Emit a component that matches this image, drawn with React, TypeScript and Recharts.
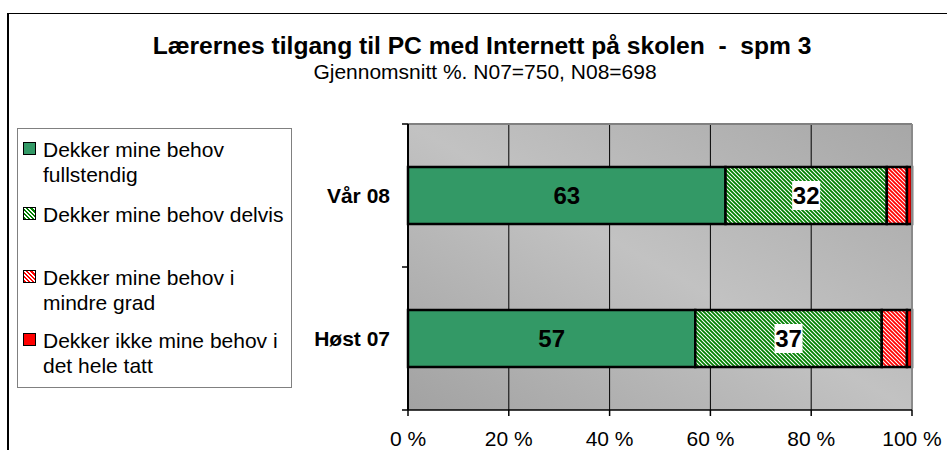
import { BarChart, Bar, XAxis, YAxis, CartesianGrid, ReferenceLine, LabelList } from "recharts";

const categories = ["Vår 08", "Høst 07"];
const fullValues = [63, 57];
const partialValues = [32, 37];
const lessValues = [4, 5];
const noneValues = [1, 1];
const xTicks = [0, 20, 40, 60, 80, 100];

const seriesNames = [
  ["Dekker mine behov", "fullstendig"],
  ["Dekker mine behov delvis"],
  ["Dekker mine behov i", "mindre grad"],
  ["Dekker ikke mine behov i", "det hele tatt"],
];

const FONT = "'Liberation Sans', Arial, sans-serif";
const W = 947;
const H = 450;
const PLOT_LEFT = 408;
const PLOT_TOP = 124;
const PLOT_BOTTOM = 410;
const BAND = (PLOT_BOTTOM - PLOT_TOP) / categories.length;

const data = categories.map((name, i) => ({
  name,
  full: fullValues[i],
  partial: partialValues[i],
  less: lessValues[i],
  none: noneValues[i],
}));

function CatTick(props: any) {
  const { y, payload, index } = props;
  const last = index === categories.length - 1;
  return (
    <g>
      <line x1={PLOT_LEFT - 6} x2={PLOT_LEFT} y1={y - BAND / 2} y2={y - BAND / 2} stroke="#000" strokeWidth={1.5} />
      {last && (
        <line x1={PLOT_LEFT - 6} x2={PLOT_LEFT} y1={y + BAND / 2} y2={y + BAND / 2} stroke="#000" strokeWidth={1.5} />
      )}
      <text x={PLOT_LEFT - 18} y={y} dy="0.36em" textAnchor="end" fontFamily={FONT} fontSize={21} fontWeight="bold" fill="#000">
        {payload.value}
      </text>
    </g>
  );
}

function PlainLabel(props: any) {
  const { x, y, width, height, value } = props;
  return (
    <text x={x + width / 2} y={y + height / 2} dy="0.36em" textAnchor="middle" fontFamily={FONT} fontSize={24} fontWeight="bold" fill="#000">
      {value}
    </text>
  );
}

function BoxedLabel(props: any) {
  const { x, y, width, height, value } = props;
  const cx = x + width / 2;
  const cy = y + height / 2;
  const bw = String(value).length * 13.5 + 1;
  return (
    <g>
      <rect x={cx - bw / 2} y={cy - 14.5} width={bw} height={29} fill="#fff" />
      <text x={cx} y={cy} dy="0.36em" textAnchor="middle" fontFamily={FONT} fontSize={24} fontWeight="bold" fill="#000">
        {value}
      </text>
    </g>
  );
}

const swatchBg = [
  "#339966",
  "repeating-linear-gradient(45deg, #008000 0px, #008000 1.6px, #fff 1.6px, #fff 3px)",
  "repeating-linear-gradient(45deg, #ff0000 0px, #ff0000 1.6px, #fff 1.6px, #fff 3px)",
  "#ff0000",
];
const legendTops = [137, 202, 265, 328];

export default function App() {
  return (
    <div style={{ position: "absolute", left: 0, top: 0, width: W, height: H, background: "#fff", overflow: "hidden", fontFamily: FONT }}>
      <div style={{ position: "absolute", left: 7, top: 12.5, width: 960, height: 460, borderTop: "1.5px solid #000", borderLeft: "2px solid #000" }} />
      <div style={{ position: "absolute", left: 8, width: 948, top: 32, textAlign: "center", fontSize: 24.6, fontWeight: "bold", whiteSpace: "pre", color: "#000" }}>
        {"Lærernes tilgang til PC med Internett på skolen  -  spm 3"}
      </div>
      <div style={{ position: "absolute", left: 8, width: 954, top: 60, textAlign: "center", fontSize: 21, color: "#000" }}>
        Gjennomsnitt %. N07=750, N08=698
      </div>
      <div style={{ position: "absolute", left: 17, top: 128, width: 273, height: 258, border: "1.5px solid #808080" }} />
      {seriesNames.map((lines, i) => (
        <div key={i} style={{ position: "absolute", left: 23, top: legendTops[i], fontSize: 21, lineHeight: "25px", color: "#000" }}>
          <div style={{ position: "absolute", left: 0, top: 5, width: 11, height: 11, border: "1.5px solid #000", background: swatchBg[i] }} />
          <div style={{ marginLeft: 20 }}>
            {lines.map((l) => (
              <div key={l}>{l}</div>
            ))}
          </div>
        </div>
      ))}
      <div style={{ position: "absolute", left: 0, top: 0 }}>
        <BarChart
          width={W}
          height={H}
          data={data}
          layout="vertical"
          margin={{ top: PLOT_TOP, right: 35, bottom: 0, left: 0 }}
          barSize={57}
        >
          <defs>
            <linearGradient id="plotBg" x1="1" y1="0" x2="0" y2="1">
              <stop offset="0" stopColor="#a7a7a7" />
              <stop offset="0.5" stopColor="#c2c2c2" />
              <stop offset="1" stopColor="#a2a2a2" />
            </linearGradient>
            <pattern id="greenHatch" width="4" height="4" patternUnits="userSpaceOnUse">
              <rect width="4" height="4" fill="#fff" />
              <path d="M-1,-1 L5,5 M-1,3 L1,5 M3,-1 L5,1" stroke="#008000" strokeWidth={1.8} />
            </pattern>
            <pattern id="redHatch" width="4" height="4" patternUnits="userSpaceOnUse">
              <rect width="4" height="4" fill="#fff" />
              <path d="M-1,-1 L5,5 M-1,3 L1,5 M3,-1 L5,1" stroke="#ff0000" strokeWidth={1.8} />
            </pattern>
          </defs>
          <CartesianGrid fill="url(#plotBg)" stroke="#000" strokeWidth={1} horizontal={false} />
          <CartesianGrid
            vertical={false}
            stroke="#808080"
            strokeWidth={2}
            horizontalCoordinatesGenerator={({ offset }: any) => [offset.top]}
          />
          <ReferenceLine x={100} stroke="#8a8a8a" strokeWidth={2} />
          <XAxis
            type="number"
            domain={[0, 100]}
            ticks={xTicks}
            tickFormatter={(v) => `${v} %`}
            height={40}
            tickSize={6}
            tickMargin={15}
            axisLine={{ stroke: "#000", strokeWidth: 1.5 }}
            tickLine={{ stroke: "#000", strokeWidth: 1.5 }}
            tick={{ fill: "#000", fontSize: 21, fontFamily: FONT }}
            interval={0}
          />
          <YAxis
            type="category"
            dataKey="name"
            width={PLOT_LEFT}
            axisLine={{ stroke: "#000", strokeWidth: 2 }}
            tickLine={false}
            tick={<CatTick />}
            interval={0}
          />
          <Bar dataKey="full" stackId="a" fill="#339966" stroke="#000" strokeWidth={2.5} isAnimationActive={false}>
            <LabelList dataKey="full" content={<PlainLabel />} />
          </Bar>
          <Bar dataKey="partial" stackId="a" fill="url(#greenHatch)" stroke="#000" strokeWidth={2.5} isAnimationActive={false}>
            <LabelList dataKey="partial" content={<BoxedLabel />} />
          </Bar>
          <Bar dataKey="less" stackId="a" fill="url(#redHatch)" stroke="#000" strokeWidth={2.5} isAnimationActive={false} />
          <Bar dataKey="none" stackId="a" fill="#ff0000" stroke="#000" strokeWidth={2.5} isAnimationActive={false} />
        </BarChart>
      </div>
    </div>
  );
}
